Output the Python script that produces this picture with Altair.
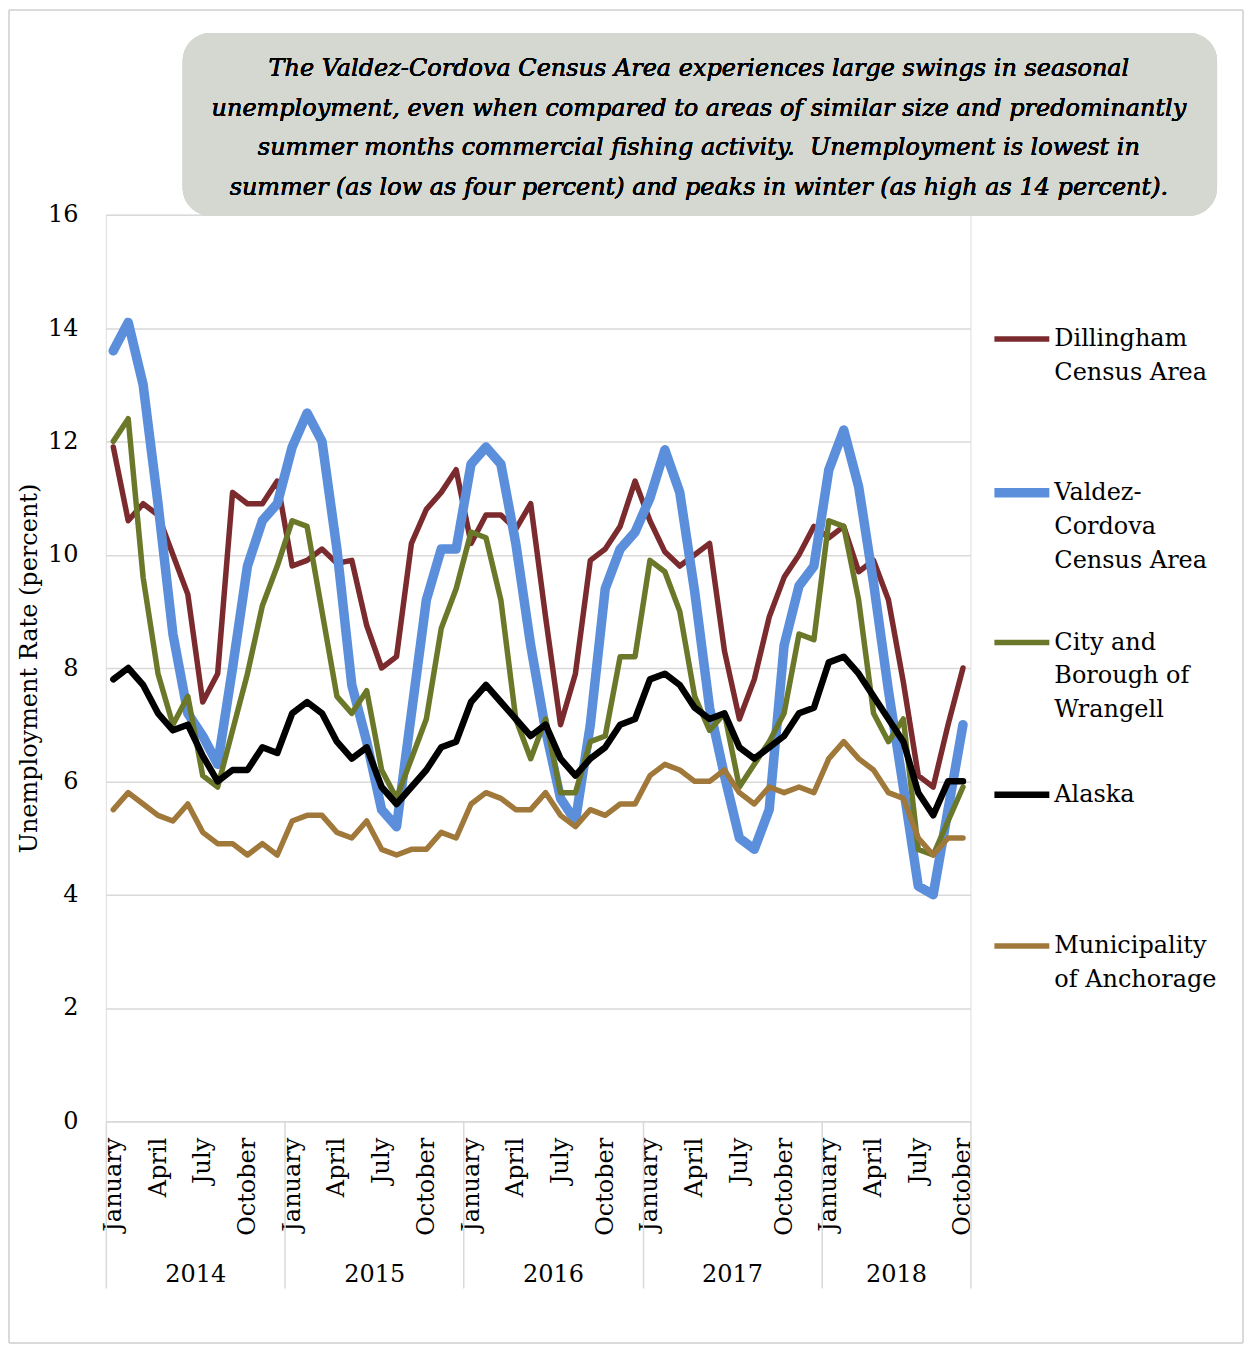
import json
import altair as alt
import pandas as pd

# ---------------- data ----------------
months = ["January", "February", "March", "April", "May", "June", "July",
          "August", "September", "October", "November", "December"]
years = [2014, 2015, 2016, 2017, 2018]
series_names = ["Dillingham Census Area", "Valdez-Cordova Census Area",
                "City and Borough of Wrangell", "Alaska", "Municipality of Anchorage"]

dillingham = [11.9, 10.6, 10.9, 10.7, 10.0, 9.3, 7.4, 7.9, 11.1, 10.9, 10.9, 11.3,
              9.8, 9.9, 10.1, 9.85, 9.9, 8.75, 8.0, 8.2, 10.2, 10.8, 11.1, 11.5,
              10.2, 10.7, 10.7, 10.45, 10.9, 8.9, 7.0, 7.9, 9.9, 10.1, 10.5, 11.3,
              10.6, 10.05, 9.8, 10.0, 10.2, 8.3, 7.1, 7.8, 8.9, 9.6, 10.0, 10.5,
              10.3, 10.5, 9.7, 9.9, 9.2, 7.75, 6.1, 5.9, 7.0, 8.0]
valdez = [13.6, 14.1, 13.0, 10.9, 8.6, 7.2, 6.8, 6.3, 8.0, 9.8, 10.6, 10.9,
          11.9, 12.5, 12.0, 10.1, 7.7, 6.7, 5.5, 5.2, 7.2, 9.2, 10.1, 10.1,
          11.6, 11.9, 11.6, 10.2, 8.4, 6.9, 5.7, 5.3, 7.0, 9.4, 10.1, 10.4,
          11.0, 11.85, 11.1, 9.35, 7.3, 6.1, 5.0, 4.8, 5.5, 8.4, 9.45, 9.8,
          11.5, 12.2, 11.2, 9.5, 7.6, 5.9, 4.15, 4.0, 5.5, 7.0]
wrangell = [12.0, 12.4, 9.6, 7.9, 7.0, 7.5, 6.1, 5.9, 6.9, 7.9, 9.1, 9.8,
            10.6, 10.5, 9.0, 7.5, 7.2, 7.6, 6.2, 5.7, 6.4, 7.1, 8.7, 9.4,
            10.4, 10.3, 9.2, 7.1, 6.4, 7.1, 5.8, 5.8, 6.7, 6.8, 8.2, 8.2,
            9.9, 9.7, 9.0, 7.5, 6.9, 7.2, 5.9, 6.3, 6.7, 7.2, 8.6, 8.5,
            10.6, 10.5, 9.2, 7.2, 6.7, 7.1, 4.8, 4.7, 5.3, 5.9]
alaska = [7.8, 8.0, 7.7, 7.2, 6.9, 7.0, 6.45, 6.0, 6.2, 6.2, 6.6, 6.5,
          7.2, 7.4, 7.2, 6.7, 6.4, 6.6, 5.9, 5.6, 5.9, 6.2, 6.6, 6.7,
          7.4, 7.7, 7.4, 7.1, 6.8, 7.0, 6.4, 6.1, 6.4, 6.6, 7.0, 7.1,
          7.8, 7.9, 7.7, 7.3, 7.1, 7.2, 6.6, 6.4, 6.6, 6.8, 7.2, 7.3,
          8.1, 8.2, 7.9, 7.5, 7.1, 6.7, 5.8, 5.4, 6.0, 6.0]
anchorage = [5.5, 5.8, 5.6, 5.4, 5.3, 5.6, 5.1, 4.9, 4.9, 4.7, 4.9, 4.7,
             5.3, 5.4, 5.4, 5.1, 5.0, 5.3, 4.8, 4.7, 4.8, 4.8, 5.1, 5.0,
             5.6, 5.8, 5.7, 5.5, 5.5, 5.8, 5.4, 5.2, 5.5, 5.4, 5.6, 5.6,
             6.1, 6.3, 6.2, 6.0, 6.0, 6.2, 5.8, 5.6, 5.9, 5.8, 5.9, 5.8,
             6.4, 6.7, 6.4, 6.2, 5.8, 5.7, 5.0, 4.7, 5.0, 5.0]

note_lines = [
    "The Valdez-Cordova Census Area experiences large swings in seasonal",
    "unemployment, even when compared to areas of similar size and predominantly",
    "summer months commercial fishing activity.\u00a0 Unemployment is lowest in",
    "summer (as low as four percent) and peaks in winter (as high as 14 percent).",
]

legend_lines = {
    "Dillingham Census Area": ["Dillingham", "Census Area"],
    "Valdez-Cordova Census Area": ["Valdez-", "Cordova", "Census Area"],
    "City and Borough of Wrangell": ["City and", "Borough of", "Wrangell"],
    "Alaska": ["Alaska"],
    "Municipality of Anchorage": ["Municipality", "of Anchorage"],
}

# ---------------- styles ----------------
colors = ["#7b2a2e", "#5b8fdb", "#6b7829", "#000000", "#a0783a"]
widths = [5.5, 9.5, 5.5, 6.5, 5.5]
FONT = "DejaVu Serif"
GRID = "#d9d9d9"

# ---------------- tables ----------------
all_series = [dillingham, valdez, wrangell, alaska, anchorage]
n = len(dillingham)
rows = []
for name, vals in zip(series_names, all_series):
    for i, v in enumerate(vals):
        rows.append({"idx": i, "month": months[i % 12], "year": years[i // 12],
                     "series": name, "value": v})
df = pd.DataFrame(rows)

bounds = [12 * k - 0.5 for k in range(len(years))] + [n - 0.5]
centers = [(bounds[k] + bounds[k + 1]) / 2 for k in range(len(years))]
df_bounds = pd.DataFrame({"b": bounds})
df_years = pd.DataFrame({"c": centers, "year": years})

label_expr = json.dumps(legend_lines) + "[datum.label]"

xdom = [-0.5, n - 0.5]


def xscale():
    return alt.Scale(domain=xdom, nice=False, zero=False)


leg = alt.Legend(
    title=None, orient="none", legendX=885, legendY=94, padding=0,
    symbolType="stroke", symbolSize=3025, labelFont=FONT, labelFontSize=24,
    labelColor="black", labelLimit=400, labelOffset=0, labelBaseline="middle",
    rowPadding=39, gridAlign="all", labelExpr=label_expr,
)

month_expr = json.dumps(months) + "[datum.value % 12]"

lines = alt.Chart(df).mark_line(strokeCap="round", strokeJoin="round").encode(
    x=alt.X("idx:Q", scale=xscale(), axis=alt.Axis(
        orient="bottom", values=list(range(0, n, 3)), labelExpr=month_expr,
        labelAngle=270, labelAlign="right", labelBaseline="middle", labelPadding=16,
        ticks=False, grid=False, domain=True, domainColor=GRID, domainWidth=1.5,
        labelFont=FONT, labelFontSize=24, labelColor="black", title=None,
        labelOverlap=False, labelFlush=False)),
    y=alt.Y("value:Q", scale=alt.Scale(domain=[0, 16], nice=False), axis=alt.Axis(
        values=list(range(0, 17, 2)), grid=True, gridColor=GRID, gridWidth=1.5,
        domain=False, ticks=False, labelFont=FONT, labelFontSize=24, labelColor="black",
        labelPadding=28, title="Unemployment Rate (percent)", titleFont=FONT,
        titleFontSize=24, titleFontWeight="normal", titleColor="black", titlePadding=6)),
    color=alt.Color("series:N", scale=alt.Scale(domain=series_names, range=colors), legend=leg),
    strokeWidth=alt.StrokeWidth("series:N", scale=alt.Scale(type="ordinal", domain=series_names, range=widths), legend=leg),
)

sep_axis = alt.Chart(df_bounds).mark_point(opacity=0).encode(
    x=alt.X("b:Q", scale=xscale(), axis=alt.Axis(
        orient="bottom", values=bounds, labels=False, ticks=True, tickSize=167,
        tickColor=GRID, tickWidth=1.5, domain=False, grid=False, title=None)),
    y=alt.value(0),
)

year_axis = alt.Chart(df_years).mark_point(opacity=0).encode(
    x=alt.X("c:Q", scale=xscale(), axis=alt.Axis(
        orient="bottom", values=centers, labelExpr="2014 + floor(datum.value / 12)",
        labelPadding=141, labelBaseline="top", ticks=False, domain=False, grid=False,
        labelFont=FONT, labelFontSize=24, labelColor="black", title=None,
        labelOverlap=False, labelFlush=False)),
    y=alt.value(0),
)

border = alt.Chart(df_years).mark_rect(filled=False, color=GRID, strokeWidth=1).encode(
    x=alt.value(-97), x2=alt.value(1139), y=alt.value(-205), y2=alt.value(1130))

box = alt.Chart(df_years).mark_rect(cornerRadius=28, color="#d5d7d1").encode(
    x=alt.value(77), x2=alt.value(1113), y=alt.value(-182), y2=alt.value(1))

box_text = alt.Chart(df_years).mark_text(
    text=note_lines, font=FONT, fontSize=24, fontStyle="italic", color="black",
    align="center", baseline="alphabetic", lineHeight=39.6,
).encode(x=alt.value(594), y=alt.value(-139))

chart = alt.layer(border, box, box_text, lines, sep_axis, year_axis).resolve_scale(
    x="independent"
).properties(width=866, height=908, padding=0, background="white").configure_view(
    stroke=None
).configure(style={"guide-label": {"lineHeight": 34}})

chart.save("out.html", embed_options={"renderer": "svg", "actions": False})
